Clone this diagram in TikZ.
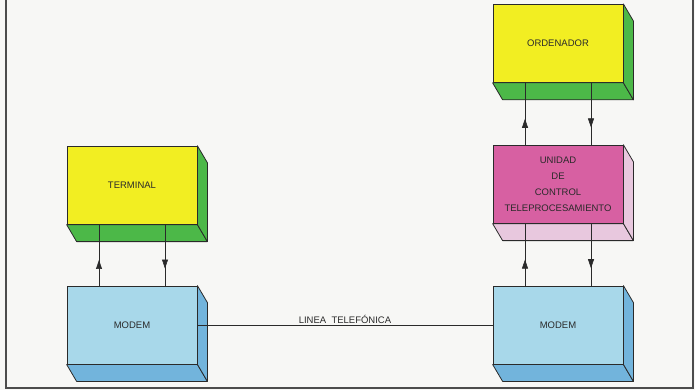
\documentclass[tikz,border=0pt]{standalone}
\usepackage{fontspec}
\setmainfont{Liberation Sans}
\usetikzlibrary{arrows.meta,positioning,calc,decorations.markings}
\definecolor{amarillo}{HTML}{F2EE22}
\definecolor{verde}{HTML}{4CB848}
\definecolor{celeste}{HTML}{A8D8EA}
\definecolor{azul}{HTML}{72B4DC}
\definecolor{rosa}{HTML}{D760A2}
\definecolor{rosaclaro}{HTML}{E8C8DE}
\definecolor{fondo}{HTML}{F7F7F5}
\definecolor{tinta}{HTML}{2A2A2A}
% caras inferior y lateral de un bloque
\newcommand{\caras}[2]{%
  \filldraw[fill=#2, draw=tinta, line width=0.8pt, line join=round]
    (#1.south west) -- (#1.south east) -- ($(#1.south east)+(10pt,-17pt)$)
    -- ($(#1.south west)+(10pt,-17pt)$) -- cycle;
  \filldraw[fill=#2, draw=tinta, line width=0.8pt, line join=round]
    (#1.north east) -- ($(#1.north east)+(10pt,-17pt)$)
    -- ($(#1.south east)+(10pt,-17pt)$) -- (#1.south east) -- cycle;
}
\tikzset{
  caja/.style={draw=tinta, line width=0.8pt, minimum width=130pt, minimum height=78pt, inner sep=0pt, align=center, font=\fontsize{9.5}{16}\selectfont, text=tinta},
  sube/.style={line width=0.6pt, draw=tinta, postaction={decorate}, decoration={markings, mark=at position 0.42 with {\arrow{Triangle[length=9pt,width=6pt]}}}},
  baja/.style={line width=0.6pt, draw=tinta, postaction={decorate}, decoration={markings, mark=at position 0.72 with {\arrow{Triangle[length=9pt,width=6pt]}}}},
  linea/.style={line width=0.6pt, draw=tinta},
  etiq/.style={font=\fontsize{9.5}{11}\selectfont, text=tinta, inner sep=1.5pt},
}
\begin{document}
\begin{tikzpicture}[x=1pt, y=1pt, node distance=62pt]
\fill[fondo] (0,0) rectangle (695,-390);
\useasboundingbox (0,0) rectangle (695,-390);
\draw[gray!60!black, line width=1.6pt] (6,0) -- (6,-388) -- (693,-388) -- (693,0);
\node[caja, fill=celeste] (modemi) at (132,-325) {MODEM};
\node[caja, fill=amarillo, above=61pt of modemi] (term) {TERMINAL};
\node[caja, fill=celeste] (modemd) at (558,-325) {MODEM};
\node[caja, fill=rosa, above=of modemd] (ucp) {UNIDAD\\DE\\CONTROL\\TELEPROCESAMIENTO};
\node[caja, fill=amarillo, above=of ucp] (orden) {ORDENADOR};
\foreach \n/\c in {term/verde, orden/verde, ucp/rosaclaro, modemi/azul, modemd/azul} \caras{\n}{\c};
\foreach \n/\m in {modemi/term, modemd/ucp, ucp/orden} {
  \draw[sube] ([xshift=-33pt]\n.north) -- ([xshift=-33pt]\m.south);
  \draw[baja] ([xshift=33pt]\m.south) -- ([xshift=33pt]\n.north);
}
\draw[linea] (modemi.east) -- node[etiq, above] {LINEA\ \ TELEFÓNICA} (modemd.west);
\end{tikzpicture}
\end{document}
